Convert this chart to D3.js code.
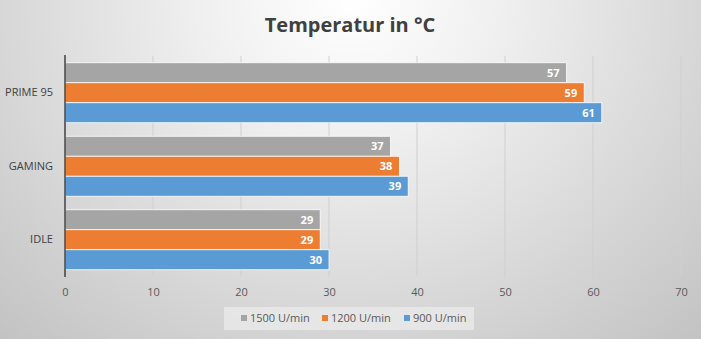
<!DOCTYPE html>
<html><head><meta charset="utf-8">
<script src="https://cdn.jsdelivr.net/npm/d3@7"></script>
<style>html,body{margin:0;padding:0;background:#fff;}svg{display:block;}</style>
</head><body>
<script>
const categories = ["PRIME 95", "GAMING", "IDLE"];
const seriesNames = ["1500 U/min", "1200 U/min", "900 U/min"];
const s1500 = [57, 37, 29];
const s1200 = [59, 38, 29];
const s900 = [61, 39, 30];
const xTicks = [0, 10, 20, 30, 40, 50, 60, 70];
const colors = ["#A5A5A5", "#ED7D31", "#5B9BD5"];
const title = "Temperatur in °C";

const W = 701, H = 339;
const svg = d3.select("body").append("svg").attr("width", W).attr("height", H);
const defs = svg.append("defs");
const rg = defs.append("radialGradient").attr("id", "bg")
  .attr("gradientUnits", "userSpaceOnUse")
  .attr("cx", W / 2).attr("cy", 0).attr("r", 520)
  .attr("gradientTransform", `translate(${W/2},0) scale(1,0.9) translate(${-W/2},0)`);
rg.append("stop").attr("offset", "0").attr("stop-color", "#ffffff");
rg.append("stop").attr("offset", "0.3").attr("stop-color", "#efefef");
rg.append("stop").attr("offset", "1").attr("stop-color", "#c2c2c2");
svg.append("rect").attr("width", W).attr("height", H).attr("fill", "url(#bg)");

const font = "'Open Sans', 'Noto Sans', sans-serif";
const x = d3.scaleLinear().domain([0, 70]).range([65, 681]);
const y = d3.scaleBand().domain(categories).range([56, 276.5]).paddingInner(0.184).paddingOuter(0.092);
const yi = d3.scaleBand().domain(seriesNames).range([0, y.bandwidth()]);

// gridlines
svg.append("g").selectAll("line").data(xTicks.slice(1)).join("line")
  .attr("x1", d => x(d)).attr("x2", d => x(d))
  .attr("y1", 56).attr("y2", 276.5)
  .attr("stroke", "#cfcfcf").attr("stroke-width", 1);

// x axis labels
const xAxis = d3.axisBottom(x).tickValues(xTicks).tickSize(0).tickPadding(12);
const gx = svg.append("g").attr("transform", "translate(0,276.5)").call(xAxis);
gx.select(".domain").remove();
gx.selectAll(".tick text").attr("fill", "#595959").attr("font-size", 11).attr("font-family", font);

// bars
const data = [s1500, s1200, s900];
const grp = svg.append("g");
categories.forEach((c, ci) => {
  seriesNames.forEach((s, si) => {
    const v = data[si][ci];
    const yy = y(c) + yi(s);
    grp.append("rect")
      .attr("x", x(0)).attr("y", yy)
      .attr("width", x(v) - x(0)).attr("height", yi.bandwidth())
      .attr("fill", colors[si]).attr("stroke", "#ffffff").attr("stroke-width", 0.8);
    grp.append("text")
      .attr("x", x(v) - 7).attr("y", yy + yi.bandwidth() / 2)
      .attr("dy", "0.35em").attr("text-anchor", "end")
      .attr("fill", "#ffffff").attr("font-weight", "bold")
      .attr("font-size", 11).attr("font-family", font).text(v);
  });
});

// y axis
const yAxis = d3.axisLeft(y).tickSize(0).tickPadding(12);
const gy = svg.append("g").attr("transform", `translate(${x(0)},0)`).call(yAxis);
gy.select(".domain").remove();
gy.selectAll(".tick text").attr("fill", "#404040").attr("font-size", 11).attr("font-family", font);
svg.append("line").attr("x1", x(0)).attr("x2", x(0)).attr("y1", 55).attr("y2", 277)
  .attr("stroke", "#404040").attr("stroke-width", 1.5);

// title
svg.append("text").attr("x", 350).attr("y", 32).attr("text-anchor", "middle")
  .attr("font-family", font).attr("font-weight", "bold").attr("font-size", 20)
  .attr("fill", "#404040").text(title);

// legend
svg.append("rect").attr("x", 224).attr("y", 307).attr("width", 250).attr("height", 23)
  .attr("fill", "#ececec").attr("opacity", 0.7);
const lx = [241, 322, 404];
seriesNames.forEach((s, i) => {
  svg.append("rect").attr("x", lx[i]).attr("y", 315).attr("width", 6).attr("height", 6).attr("fill", colors[i]);
  svg.append("text").attr("x", lx[i] + 9).attr("y", 318).attr("dy", "0.35em")
    .attr("font-family", font).attr("font-size", 11).attr("fill", "#595959").text(s);
});
</script>
</body></html>
